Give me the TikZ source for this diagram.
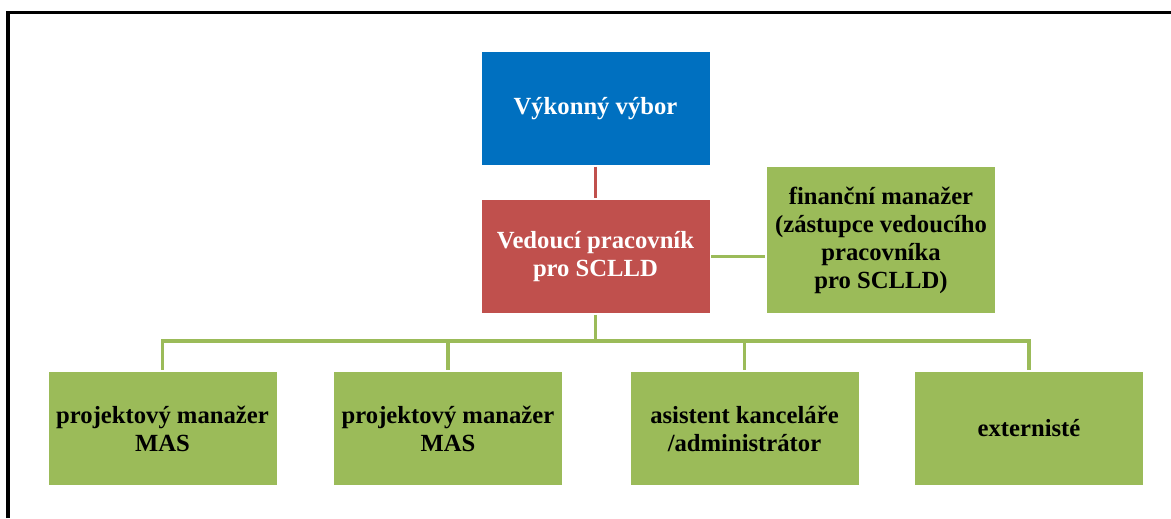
\documentclass[tikz,border=0pt]{standalone}
\usepackage{fontspec}
\setmainfont{Liberation Serif}
\usepackage{tikz}
\usetikzlibrary{calc}
\definecolor{vyborblue}{HTML}{0070C0}
\definecolor{vedred}{HTML}{C0504D}
\definecolor{masgreen}{HTML}{9BBB59}

\begin{document}
\begin{tikzpicture}[x=0.75pt,y=-0.75pt,line width=2.6pt,
  box/.style={rectangle,minimum width=171pt,minimum height=84.75pt,align=center,
    inner sep=2pt,font=\fontsize{18.5}{21}\selectfont\bfseries},
  blue box/.style={box,fill=vyborblue,text=white},
  red box/.style={box,fill=vedred,text=white},
  green box/.style={box,fill=masgreen,text=black}]

\useasboundingbox (0,0) rectangle (1171,518);
\draw[line width=2.6pt] (8,518) -- (8,12.5) -- (1171,12.5);

\node[blue box](VV) at (595.5,108.5) {Výkonný výbor};
\node[red box](VP) at (595.5,256.5) {Vedoucí pracovník\\pro SCLLD};
\node[green box,minimum height=109.5pt](FM) at (881,240)
  {finanční manažer\\(zástupce vedoucího\\pracovníka\\pro SCLLD)};

\node[green box](PM1) at (162.5,428.5) {projektový manažer\\MAS};
\node[green box](PM2) at (448,428.5) {projektový manažer\\MAS};
\node[green box](AK) at (744.5,428.5) {asistent kanceláře\\/administrátor};
\node[green box](EX) at (1029,428.5) {externisté};

\coordinate (bus) at (595.5,341);

\draw[vedred] (VV) -- (VP);
\draw[masgreen] (VP.east) -- (VP.east -| FM.west);
\draw[masgreen] (VP.south) -- (bus);
\foreach \n in {PM1,PM2,AK,EX}
  \draw[masgreen] (bus) -| (\n.north);
\end{tikzpicture}
\end{document}
